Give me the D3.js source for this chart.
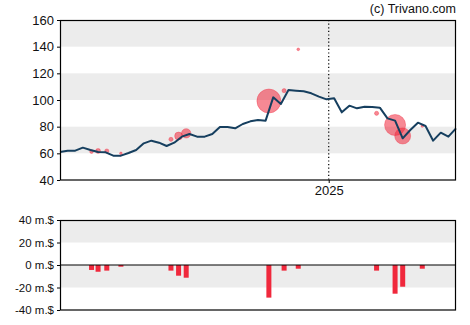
<!DOCTYPE html>
<html>
<head>
<meta charset="utf-8">
<script src="https://cdn.jsdelivr.net/npm/d3@7"></script>
<style>
  html, body { margin: 0; padding: 0; background: #fff; }
  svg text { font-family: "Liberation Sans", Arial, sans-serif; }
</style>
</head>
<body>
<svg id="chart" width="470" height="325"></svg>
<script>
// Weekly closing prices
const weeks = [
  "2024-04-29","2024-05-06","2024-05-13","2024-05-20","2024-05-27","2024-06-03","2024-06-10",
  "2024-06-17","2024-06-24","2024-07-01","2024-07-08","2024-07-15","2024-07-22","2024-07-29",
  "2024-08-05","2024-08-12","2024-08-19","2024-08-26","2024-09-02","2024-09-09","2024-09-16",
  "2024-09-23","2024-09-30","2024-10-07","2024-10-14","2024-10-21","2024-10-28","2024-11-04",
  "2024-11-11","2024-11-18","2024-11-25","2024-12-02","2024-12-09","2024-12-16","2024-12-23",
  "2024-12-30","2025-01-06","2025-01-13","2025-01-20","2025-01-27","2025-02-03","2025-02-10",
  "2025-02-17","2025-02-24","2025-03-03","2025-03-10","2025-03-17","2025-03-24","2025-03-31",
  "2025-04-07","2025-04-14","2025-04-21","2025-04-28"
];
const prices = [
  61, 62, 62, 64.25, 62.5, 61, 60.75,
  58.25, 58.25, 60.25, 62.5, 67.5, 69.5, 68,
  65.5, 68, 72.5, 74.5, 72.5, 72.5, 74.5,
  79.75, 79.75, 78.75, 82, 84, 85, 84.5,
  102, 97, 107.5, 107, 106.5, 105, 102.5,
  100.5, 101.25, 90.75, 95.75, 93.75, 95, 94.75,
  94.25, 86.25, 84.5, 71.25, 77.5, 83, 80.5,
  69.5, 75.5, 72.5, 78.75
];

// Insider transactions: date, trade price, net value in millions of dollars
const tradeDates = [
  "2024-05-28","2024-06-03","2024-06-11","2024-06-24","2024-08-09","2024-08-16","2024-08-23",
  "2024-11-07","2024-11-21","2024-12-04","2025-02-14","2025-03-03","2025-03-10","2025-03-28"
];
const tradePrices = [61.25, 61.75, 61.75, 60, 70.5, 73, 75, 99.25, 107, 138, 90, 81.25, 73, 80.5];
const tradeValues = [-4.4, -6, -5, -1.5, -5, -9.5, -11.3, -29, -5, -3.3, -5, -25.5, -19.3, -3.3];

const priceTicks = [40, 60, 80, 100, 120, 140, 160];
const priceBands = [[60, 80], [100, 120], [140, 160]];
const flowTicks = [40, 20, 0, -20, -40];
const flowTickLabels = ["40 m.$", "20 m.$", "0 m.$", "-20 m.$", "-40 m.$"];
const flowBands = [[20, 40], [-20, 0]];
const yearMarks = ["2025-01-01"];
const yearLabels = ["2025"];
const credit = "(c) Trivano.com";

const parse = d3.timeParse("%Y-%m-%d");
const svg = d3.select("#chart");

const left = 60, right = 456;
const x = d3.scaleTime()
  .domain([parse(weeks[0]), parse(weeks[weeks.length - 1])])
  .range([left, right]);

const yP = d3.scaleLinear().domain([40, 160]).range([180, 20]);
const yF = d3.scaleLinear().domain([-40, 40]).range([310, 220]);
const rScale = d3.scaleLinear().domain([0, 30]).range([0, 12.4]);

const bandColor = "#ececec";
const red = "#f0283c";

// ---- price panel ----
const pricePanel = svg.append("g");
pricePanel.selectAll("rect.band").data(priceBands).join("rect")
  .attr("x", left).attr("width", right - left)
  .attr("y", d => yP(d[1])).attr("height", d => yP(d[0]) - yP(d[1]))
  .attr("fill", bandColor);

pricePanel.selectAll("line.year").data(yearMarks).join("line")
  .attr("x1", d => x(parse(d))).attr("x2", d => x(parse(d)))
  .attr("y1", yP(160)).attr("y2", yP(40))
  .attr("stroke", "#000").attr("stroke-width", 1.2).attr("stroke-dasharray", "1.2,2.4");

pricePanel.selectAll("circle.trade").data(tradeDates).join("circle")
  .attr("cx", d => x(parse(d)))
  .attr("cy", (d, i) => yP(tradePrices[i]))
  .attr("r", (d, i) => Math.max(1.3, rScale(Math.abs(tradeValues[i]))))
  .attr("fill", red).attr("fill-opacity", 0.55)
  .attr("stroke", red).attr("stroke-opacity", 0.35).attr("stroke-width", 1);

const line = d3.line()
  .x((d, i) => x(parse(weeks[i])))
  .y(d => yP(d));
pricePanel.append("path").datum(prices)
  .attr("d", line).attr("fill", "none")
  .attr("stroke", "#163f5f").attr("stroke-width", 2).attr("stroke-linejoin", "round");

pricePanel.append("rect")
  .attr("x", left + 0.5).attr("y", yP(160) + 0.5)
  .attr("width", right - left - 1).attr("height", yP(40) - yP(160) - 0.5)
  .attr("fill", "none").attr("stroke", "#000").attr("stroke-width", 1.2);

const axP = d3.axisLeft(yP).tickValues(priceTicks).tickSize(3).tickPadding(3);
const gP = pricePanel.append("g").attr("transform", `translate(${left},0)`).call(axP);
gP.select(".domain").remove();
gP.selectAll("text").attr("font-size", 13).attr("fill", "#111");
gP.selectAll("line").attr("stroke", "#000");

const axX = d3.axisBottom(x).tickValues(yearMarks.map(parse))
  .tickFormat((d, i) => yearLabels[i]).tickSize(3).tickPadding(3);
const gX = pricePanel.append("g").attr("transform", `translate(0,${yP(40)})`).call(axX);
gX.select(".domain").remove();
gX.selectAll("text").attr("font-size", 13).attr("fill", "#111");

svg.append("text").attr("x", right).attr("y", 13)
  .attr("text-anchor", "end").attr("font-size", 12.5).attr("fill", "#111")
  .text(credit);

// ---- insider flow panel ----
const flowPanel = svg.append("g");
flowPanel.selectAll("rect.band").data(flowBands).join("rect")
  .attr("x", left).attr("width", right - left)
  .attr("y", d => yF(d[1])).attr("height", d => yF(d[0]) - yF(d[1]))
  .attr("fill", bandColor);

const barW = 5;
flowPanel.selectAll("rect.bar").data(tradeDates).join("rect")
  .attr("x", d => x(parse(d)) - barW / 2)
  .attr("width", barW)
  .attr("y", (d, i) => Math.min(yF(0), yF(tradeValues[i])))
  .attr("height", (d, i) => Math.abs(yF(tradeValues[i]) - yF(0)))
  .attr("fill", red);

flowPanel.append("line")
  .attr("x1", left).attr("x2", right).attr("y1", yF(0)).attr("y2", yF(0))
  .attr("stroke", "#000").attr("stroke-width", 1.2);

flowPanel.append("rect")
  .attr("x", left + 0.5).attr("y", yF(40) + 0.5)
  .attr("width", right - left - 1).attr("height", yF(-40) - yF(40) - 0.5)
  .attr("fill", "none").attr("stroke", "#000").attr("stroke-width", 1.2);

const axF = d3.axisLeft(yF).tickValues(flowTicks)
  .tickFormat((d, i) => flowTickLabels[i]).tickSize(3).tickPadding(3);
const gF = flowPanel.append("g").attr("transform", `translate(${left},0)`).call(axF);
gF.select(".domain").remove();
gF.selectAll("text").attr("font-size", 11.5).attr("fill", "#111");
gF.selectAll("line").attr("stroke", "#000");
</script>
</body>
</html>
